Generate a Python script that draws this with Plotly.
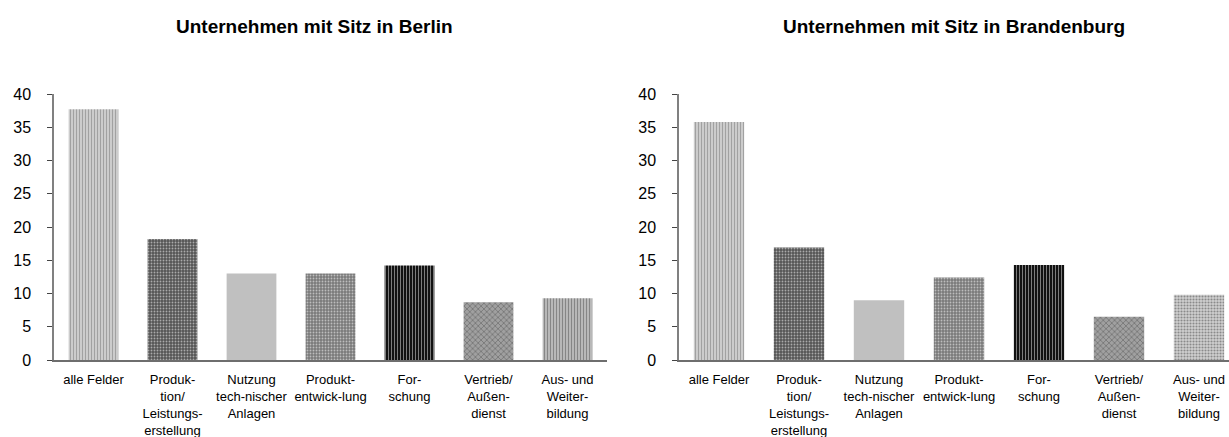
import plotly.graph_objects as go

W, H = 1229, 437

categories = ["alle Felder", "Produktion", "Nutzung", "Produktentwicklung",
              "Forschung", "Vertrieb", "Weiterbildung"]
tick_labels = [
    "alle Felder",
    "Produk-<br>tion/<br>Leistungs-<br>erstellung",
    "Nutzung<br>tech-nischer<br>Anlagen",
    "Produkt-<br>entwick-lung",
    "For-<br>schung",
    "Vertrieb/<br>Außen-<br>dienst",
    "Aus- und<br>Weiter-<br>bildung",
]
berlin_values = [37.7, 18.2, 13.0, 13.0, 14.2, 8.7, 9.3]
brandenburg_values = [35.8, 16.9, 9.0, 12.4, 14.3, 6.5, 9.8]
titles = ["Unternehmen mit Sitz in Berlin", "Unternehmen mit Sitz in Brandenburg"]
y_ticks = [0, 5, 10, 15, 20, 25, 30, 35, 40]

FONT = "Liberation Sans, Arial, sans-serif"

# per-bar pattern styles (Berlin)
pat_left = dict(
    shape=["|", ".", "", ".", "|", "x", "|"],
    fgcolor=["#8c8c8c", "#6a6a6a", "#c0c0c0", "#8c8c8c", "#333333", "#505050", "#a4a4a4"],
    bgcolor=["#ffffff", "#555555", "#c0c0c0", "#7a7a7a", "#111111", "#a0a0a0", "#c8c8c8"],
    size=[3, 3, 4, 3, 3, 4, 3],
    solidity=[0.7, 0.3, 0.3, 0.3, 0.3, 0.35, 0.5],
)
pat_right = dict(
    shape=["|", ".", "", ".", "|", "x", "."],
    fgcolor=["#8c8c8c", "#6a6a6a", "#c0c0c0", "#8c8c8c", "#333333", "#505050", "#b0b0b0"],
    bgcolor=["#ffffff", "#555555", "#c0c0c0", "#7a7a7a", "#111111", "#a0a0a0", "#d0d0d0"],
    size=[3, 3, 4, 3, 3, 4, 3],
    solidity=[0.7, 0.3, 0.3, 0.3, 0.3, 0.35, 0.4],
)

fig = go.Figure()
fig.add_trace(go.Bar(x=categories, y=berlin_values, xaxis="x", yaxis="y",
                     marker=dict(color=pat_left["bgcolor"], line=dict(width=0),
                                 pattern=pat_left),
                     showlegend=False, hoverinfo="skip"))
fig.add_trace(go.Bar(x=categories, y=brandenburg_values, xaxis="x2", yaxis="y2",
                     marker=dict(color=pat_right["bgcolor"], line=dict(width=0),
                                 pattern=pat_right),
                     showlegend=False, hoverinfo="skip"))

ydom = [(H - 360) / H, (H - 94) / H]
xcommon = dict(type="category", tickmode="array", tickvals=categories, ticktext=tick_labels,
               showgrid=False, zeroline=False, showline=True, linecolor="#6e6e6e", linewidth=1.5,
               ticks="", tickfont=dict(family=FONT, size=13, color="#000000"),
               ticklabelstandoff=7, automargin=False, fixedrange=True)
ycommon = dict(range=[0, 40], tickvals=y_ticks, showgrid=False, zeroline=False, showline=True,
               linecolor="#808080", linewidth=1.5, ticks="outside", ticklen=5, tickcolor="#444444",
               tickfont=dict(family=FONT, size=16, color="#000000"), ticklabelstandoff=13,
               domain=ydom, automargin=False, fixedrange=True)

fig.update_layout(
    width=W, height=H,
    margin=dict(l=0, r=0, t=0, b=0, pad=0, autoexpand=False),
    paper_bgcolor="white", plot_bgcolor="white",
    bargap=0.37,
    xaxis=dict(domain=[54 / W, 607 / W], range=[-0.5, 6.5], anchor="y", **xcommon),
    yaxis=dict(anchor="x", **ycommon),
    xaxis2=dict(domain=[679 / W, 1.0], range=[-0.5, 6.375], anchor="y2", **xcommon),
    yaxis2=dict(anchor="x2", **ycommon),
    annotations=[
        dict(text="<b>" + titles[0] + "</b>", x=314 / W, y=1 - 26 / H, xref="paper", yref="paper",
             xanchor="center", yanchor="middle", showarrow=False,
             font=dict(family=FONT, size=19, color="#000000")),
        dict(text="<b>" + titles[1] + "</b>", x=954 / W, y=1 - 26 / H, xref="paper", yref="paper",
             xanchor="center", yanchor="middle", showarrow=False,
             font=dict(family=FONT, size=19, color="#000000")),
    ],
)

fig.write_html("out.html", config={"displayModeBar": False},
               post_script="document.body.style.margin='0';document.body.style.overflow='hidden';")
